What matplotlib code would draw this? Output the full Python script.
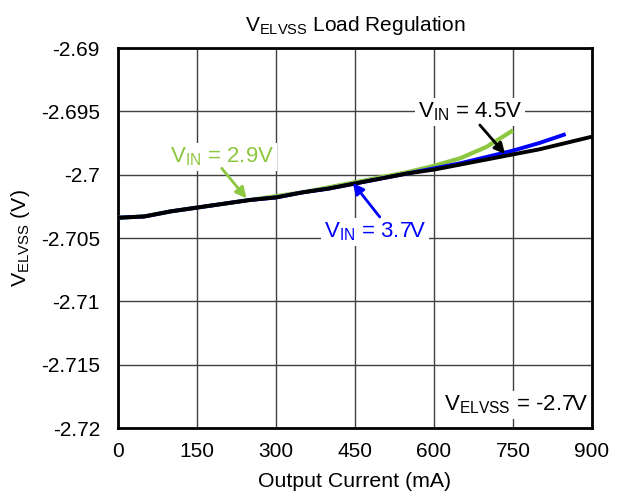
import matplotlib
matplotlib.use("Agg")
import matplotlib.pyplot as plt

plt.rcParams['font.family'] = ['Liberation Sans', 'DejaVu Sans']
plt.rcParams['mathtext.fontset'] = 'custom'
plt.rcParams['mathtext.rm'] = 'Liberation Sans'

# output current (mA)
i_29 = [0, 50, 100, 150, 200, 250, 300, 350, 400, 450, 500, 550, 600, 650, 700, 750]
v_29 = [-2.7034, -2.7033, -2.7029, -2.7026, -2.7023, -2.7020, -2.7017, -2.7014, -2.7010,
        -2.7006, -2.7002, -2.6998, -2.6993, -2.6987, -2.6978, -2.6965]
i_37 = [0, 50, 100, 150, 200, 250, 300, 350, 400, 450, 500, 550, 600, 650, 700, 750, 800, 850]
v_37 = [-2.7034, -2.7033, -2.7029, -2.7026, -2.7023, -2.7020, -2.7018, -2.7014, -2.7011,
        -2.7007, -2.7003, -2.6999, -2.6995, -2.6991, -2.6986, -2.6981, -2.6975, -2.6968]
i_45 = [0, 50, 100, 150, 200, 250, 300, 350, 400, 450, 500, 550, 600, 650, 700, 750, 800, 850, 900]
v_45 = [-2.7034, -2.7033, -2.7029, -2.7026, -2.7023, -2.7020, -2.7018, -2.7014, -2.7011,
        -2.7007, -2.7003, -2.6999, -2.6996, -2.6992, -2.6988, -2.6984, -2.6980, -2.6975, -2.6970]

x_ticks = [0, 150, 300, 450, 600, 750, 900]
y_ticks = [-2.72, -2.715, -2.71, -2.705, -2.7, -2.695, -2.69]
y_labels = ['-2.72', '-2.715', '-2.71', '-2.705', '-2.7', '-2.695', '-2.69']

green = '#8DC63F'
blue = '#0000FF'
fs = 15

fig = plt.figure(figsize=(6.19, 5), dpi=100)
ax = fig.add_axes([0.1906, 0.144, 0.7658, 0.760])

ax.plot(i_29, v_29, color=green, lw=3, solid_capstyle='butt', zorder=3)
ax.plot(i_37, v_37, color=blue, lw=2.8, solid_capstyle='butt', zorder=4)
ax.plot(i_45, v_45, color='black', lw=2.8, solid_capstyle='butt', zorder=5)

ax.set_xlim(0, 900)
ax.set_ylim(-2.72, -2.69)
ax.set_xticks(x_ticks)
ax.set_yticks(y_ticks)
ax.set_yticklabels(y_labels)
ax.tick_params(length=0, labelsize=fs)
ax.tick_params(axis='x', pad=10)
ax.tick_params(axis='y', pad=13)
ax.grid(True, color='#404040', lw=1)
ax.set_axisbelow(True)
for s in ax.spines.values():
    s.set_linewidth(2)

ax.set_xlabel('Output Current (mA)', fontsize=fs + 0.3, labelpad=8)
ax.set_ylabel(r'V$_{\mathregular{ELVSS}}$ (V)', fontsize=fs + 0.3, labelpad=6)
ax.set_title(r'V$_{\mathregular{ELVSS}}$ Load Regulation', fontsize=fs, pad=12)

box = dict(facecolor='white', edgecolor='none', pad=2)


def label(x, y, s, c):
    ax.text(x, y, s, color=c, fontsize=16, ha='center', va='center', bbox=box, zorder=6)


def arrow(tail, head, c):
    ax.annotate('', xy=head, xytext=tail,
                arrowprops=dict(arrowstyle='-|>', color=c, lw=2, mutation_scale=16,
                                shrinkA=0, shrinkB=0), zorder=7)


label(197, -2.6986, r'V$_{\mathregular{IN}}$ = 2.9V', green)
arrow((197, -2.6995), (244, -2.70187), green)
label(488, -2.70453, r'V$_{\mathregular{IN}}$ = 3.7V', blue)
arrow((497, -2.70334), (446, -2.70066), blue)
label(668, -2.69505, r'V$_{\mathregular{IN}}$ = 4.5V', 'black')
arrow((687, -2.69608), (735, -2.69837), 'black')
label(756, -2.71818, r'V$_{\mathregular{ELVSS}}$ = -2.7V', 'black')

fig.savefig('out.png', dpi=100)
